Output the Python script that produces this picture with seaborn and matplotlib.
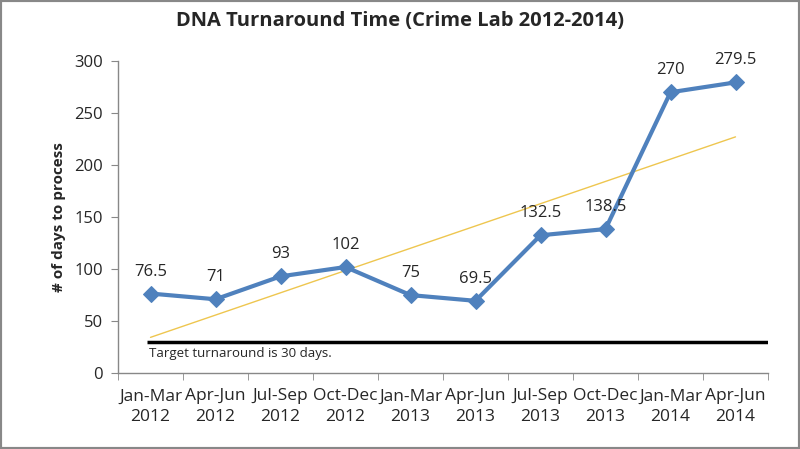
import numpy as np
import pandas as pd
import matplotlib
matplotlib.use("Agg")
import matplotlib.pyplot as plt
import seaborn as sns

categories = ["Jan-Mar\n2012", "Apr-Jun\n2012", "Jul-Sep\n2012", "Oct-Dec\n2012",
              "Jan-Mar\n2013", "Apr-Jun\n2013", "Jul-Sep\n2013", "Oct-Dec\n2013",
              "Jan-Mar\n2014", "Apr-Jun\n2014"]
days = [76.5, 71, 93, 102, 75, 69.5, 132.5, 138.5, 270, 279.5]
labels = ["76.5", "71", "93", "102", "75", "69.5", "132.5", "138.5", "270", "279.5"]
target = 30
yticks = [0, 50, 100, 150, 200, 250, 300]

sns.set_style("white")
plt.rcParams['font.family'] = ['Open Sans', 'DejaVu Sans']

df = pd.DataFrame({"idx": np.arange(len(categories)), "days": days})

fig = plt.figure(figsize=(8, 4.49), dpi=100)
ax = fig.add_axes([0.1475, 0.169, 0.8125, 0.695])

# trend line (linear fit of the data)
coef = np.polyfit(df["idx"], df["days"], 1)
tx = np.array([0, len(categories) - 1])
ax.plot(tx, np.polyval(coef, tx), color="#EEC64F", lw=1.0, zorder=2)

# target line
ax.plot([-0.05, 9.5], [target, target], color="black", lw=2.5, zorder=2, solid_capstyle="butt")
ax.text(-0.03, target - 4.5, "Target turnaround is 30 days.", fontsize=9.5, va="top", ha="left")

sns.lineplot(data=df, x="idx", y="days", ax=ax, color="#4F81BD", lw=3,
             marker="D", markersize=8.5, markeredgecolor="#4F81BD", zorder=3)

for i, (v, lab) in enumerate(zip(days, labels)):
    ax.annotate(lab, (i, v), xytext=(0, 10), textcoords="offset points",
                ha="center", va="bottom", fontsize=12)

ax.set_xlim(-0.5, 9.5)
ax.set_ylim(0, 300)
ax.set_yticks(yticks)
ax.set_xticks(np.arange(len(categories)))
ax.set_xticklabels(categories, fontsize=12.5, linespacing=1.4)
ax.tick_params(axis="y", labelsize=12)
ax.set_xticks(np.arange(-0.5, 10, 1), minor=True)
ax.tick_params(axis="x", which="major", length=0, pad=11)
ax.tick_params(axis="x", which="minor", length=5, color="#888888", direction="out", bottom=True)
ax.tick_params(axis="y", length=5, color="#888888", direction="out", left=True, pad=6)
ax.set_xlabel("")
ax.set_ylabel("# of days to process", fontsize=11, fontweight="bold", labelpad=6)

for s in ["top", "right"]:
    ax.spines[s].set_visible(False)
for s in ["left", "bottom"]:
    ax.spines[s].set_color("#888888")
    ax.spines[s].set_linewidth(1)

fig.suptitle("DNA Turnaround Time (Crime Lab 2012-2014)", fontsize=14.5, fontweight="bold", y=0.975)

fig.patches.append(plt.Rectangle((0, 0), 1, 1, transform=fig.transFigure, fill=False,
                                 edgecolor="#888888", lw=3))

fig.savefig("out.png", dpi=100)
